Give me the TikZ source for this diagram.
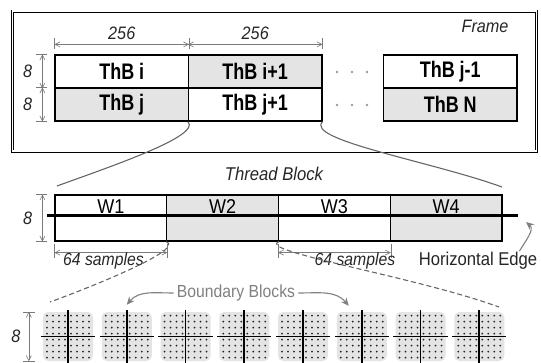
\documentclass[tikz,border=0pt]{standalone}
\usepackage{fontspec}
\setmainfont{Liberation Sans}[FakeStretch=0.9]
\newfontfamily\thbfont{Liberation Sans Bold}[FakeStretch=0.8]
\usetikzlibrary{arrows.meta}
\definecolor{cellgray}{HTML}{E4E4E4}
\definecolor{dimgray}{HTML}{7A7A7A}

\begin{document}
\begin{tikzpicture}[
    x=1pt, y=-1pt,
    every node/.style={
        inner sep=0pt,
        align=center
    },
    framebox/.style={
        draw=black,
        double=white,
        double distance=1.6pt,
        line width=0.7pt,
        minimum width=524pt,
        minimum height=140pt
    },
    thb/.style={
        draw=black,
        line width=1.2pt,
        minimum width=133.5pt,
        minimum height=33pt,
        font=\fontsize{22.5}{22.5}\thbfont
    },
    thbgray/.style={
        thb,
        fill=cellgray
    },
    warp/.style={
        draw=black,
        line width=1.2pt,
        minimum width=111.75pt,
        minimum height=46pt,
        text height=13pt,
        text depth=22pt,
        font=\fontsize{20}{20}\selectfont
    },
    warpgray/.style={
        warp,
        fill=cellgray
    },
    bblock/.style={
        fill=cellgray,
        rounded corners=5pt,
        minimum width=50pt,
        minimum height=49pt
    },
    dimline/.style={
        dimgray,
        line width=0.6pt,
        {Straight Barb[length=5pt,width=5pt]}-{Straight Barb[length=5pt,width=5pt]}
    },
    dimtick/.style={
        dimgray,
        line width=0.6pt
    },
    dimlabel/.style={
        text=black!85,
        font=\fontsize{18}{18}\selectfont\itshape
    },
    plainlabel/.style={
        text=black!85,
        font=\fontsize{18.5}{18.5}\selectfont
    },
    bblabel/.style={
        text=black!50,
        font=\fontsize{17.5}{17.5}\selectfont
    },
    link/.style={
        draw=black!60,
        line width=1.1pt
    },
    dashlink/.style={
        link,
        dash pattern=on 5pt off 3pt
    },
    callout/.style={
        black!50,
        line width=1.1pt,
        -{Stealth[length=8pt,width=7pt]}
    },
    edgeline/.style={
        line width=2.5pt
    },
    blockline/.style={
        line width=1.6pt
    }
]

\useasboundingbox (0,0) rectangle (541,362);

\node[framebox] (frame) at (274.5,81) {};
\node[dimlabel] (framelabel) at (485,26) {Frame};

\node[thb] (thbi) at (121.75,71.5) {ThB i};
\node[thbgray] (thbi1) at (255.25,71.5) {ThB i+1};
\node[thb] (thbjm) at (450.25,71.5) {ThB j-1};
\node[thbgray] (thbj) at (121.75,104.5) {ThB j};
\node[thb] (thbj1) at (255.25,104.5) {ThB j+1};
\node[thbgray] (thbn) at (450.25,104.5) {ThB N};

\foreach \y in {72,105}
    \foreach \x in {337,352,367}
        \fill[black!40] (\x,\y) circle (1.3pt);

\draw[dimtick] ([yshift=5pt]thbi.north west) -- ([yshift=16pt]thbi.north west);
\draw[dimtick] ([yshift=5pt]thbi.north east) -- ([yshift=16pt]thbi.north east);
\draw[dimtick] ([yshift=5pt]thbi1.north east) -- ([yshift=16pt]thbi1.north east);
\draw[dimline]
    ([yshift=10pt]thbi.north west)
    --
    node[dimlabel, above=4pt] {256}
    ([yshift=10pt]thbi.north east);
\draw[dimline]
    ([yshift=10pt]thbi1.north west)
    --
    node[dimlabel, above=4pt] {256}
    ([yshift=10pt]thbi1.north east);

\draw[dimtick] ([xshift=-7pt]thbi.north west) -- ([xshift=-18pt]thbi.north west);
\draw[dimtick] ([xshift=-7pt]thbj.north west) -- ([xshift=-18pt]thbj.north west);
\draw[dimtick] ([xshift=-7pt]thbj.south west) -- ([xshift=-18pt]thbj.south west);
\draw[dimline]
    ([xshift=-12pt]thbi.north west)
    --
    node[dimlabel, left=10pt] {8}
    ([xshift=-12pt]thbi.south west);
\draw[dimline]
    ([xshift=-12pt]thbj.north west)
    --
    node[dimlabel, left=10pt] {8}
    ([xshift=-12pt]thbj.south west);

\node[dimlabel, font=\fontsize{18.5}{18.5}\selectfont\itshape] (tblabel) at (274,174) {Thread Block};

\node[warp] (w1) at (110.9,218) {W1};
\node[warpgray] (w2) at (222.6,218) {W2};
\node[warp] (w3) at (334.4,218) {W3};
\node[warpgray] (w4) at (446.1,218) {W4};

\coordinate (edgeL) at (47,215.5);
\coordinate (edgeR) at (518,215.5);
\draw[edgeline] (edgeL) -- (edgeR);

\coordinate (tbL) at (57,186);
\coordinate (tbR) at (502,187);
\draw[link] (thbj1.south west) to[out=-45,in=20,out looseness=0.35] (tbL);
\draw[link] (thbj1.south east) to[out=-135,in=160,out looseness=0.35] (tbR);

\draw[dimtick] ([xshift=-7pt]w1.north west) -- ([xshift=-18pt]w1.north west);
\draw[dimtick] ([xshift=-7pt]w1.south west) -- ([xshift=-18pt]w1.south west);
\draw[dimline]
    ([xshift=-12pt]w1.north west)
    --
    node[dimlabel, left=10pt] {8}
    ([xshift=-12pt]w1.south west);

\draw[dimtick] ([yshift=-2pt]w1.south west) -- ([yshift=-16pt]w1.south west);
\draw[dimtick] ([yshift=-2pt]w1.south east) -- ([yshift=-16pt]w1.south east);
\draw[dimtick] ([yshift=-2pt]w3.south west) -- ([yshift=-16pt]w3.south west);
\draw[dimtick] ([yshift=-2pt]w3.south east) -- ([yshift=-16pt]w3.south east);
\draw[dimline] ([yshift=-11pt]w1.south west) -- ([yshift=-11pt]w1.south east);
\draw[dimline] ([yshift=-11pt]w3.south west) -- ([yshift=-11pt]w3.south east);
\node[dimlabel, font=\fontsize{17.5}{17.5}\selectfont\itshape] (samplesA) at (103.5,261) {64 samples};
\node[dimlabel, font=\fontsize{17.5}{17.5}\selectfont\itshape] (samplesB) at (355,261) {64 samples};

\node[plainlabel] (hedge) at (478,261) {Horizontal Edge};
\coordinate (edgetip) at (526,222);
\draw[callout] ([xshift=-18pt,yshift=1pt]hedge.north east) to[out=60,in=-40] (edgetip);

\foreach \i in {1,...,8} {
    \node[bblock] (blk\i) at ({68+(\i-1)*58.75},336.5) {};
    \foreach \dx in {-21,-15,-9,-3,3,9,15,21}
        \foreach \dy in {-21,-15,-9,-3,3,9,15,21}
            \fill[black!85] ([shift={(\dx,\dy)}]blk\i.center) circle (1pt);
    \draw[blockline] ([xshift=-2pt]blk\i.west) -- ([xshift=2pt]blk\i.east);
    \draw[blockline] ([yshift=2pt]blk\i.north) -- ([yshift=-4pt]blk\i.south);
}

\coordinate (bbL) at (50,302);
\coordinate (bbR) at (499,307);
\draw[dashlink] (w2.south west) to[out=-20,in=20,out looseness=0.4] (bbL);
\draw[dashlink] (w2.south east) to[out=-160,in=160,out looseness=0.3] (bbR);

\node[bblabel] (bbtext) at (236,293) {Boundary Blocks};
\draw[callout] ([xshift=-3pt]bbtext.west) to[out=180,in=50] ([yshift=7pt]blk2.north);
\draw[callout] ([xshift=3pt]bbtext.east) to[out=0,in=130] ([xshift=-13pt,yshift=6pt]blk6.north);

\draw[dimtick] ([xshift=-8pt]blk1.north west) -- ([xshift=-20pt]blk1.north west);
\draw[dimtick] ([xshift=-8pt]blk1.south west) -- ([xshift=-20pt]blk1.south west);
\draw[dimline]
    ([xshift=-14pt]blk1.north west)
    --
    node[dimlabel, left=8pt] {8}
    ([xshift=-14pt]blk1.south west);

\end{tikzpicture}
\end{document}
